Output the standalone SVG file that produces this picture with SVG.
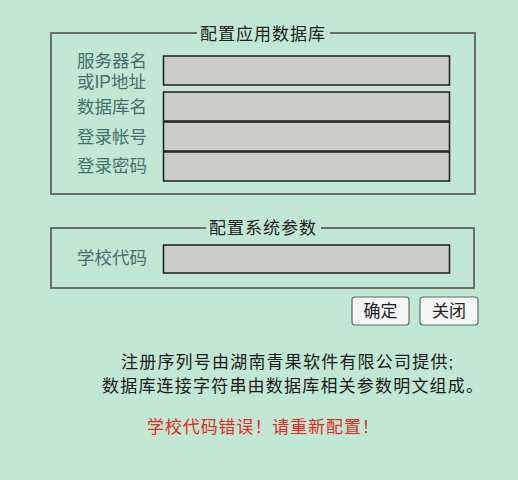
<svg xmlns="http://www.w3.org/2000/svg" width="518" height="480" viewBox="0 0 518 480">
<style>
text{font-family:"Liberation Sans","Noto Sans CJK SC",sans-serif}
.fs{fill:none;stroke:#6b6f6c;stroke-width:2}
.ttl{font-size:17px;fill:#222;letter-spacing:1px}
.lbl{font-size:17.5px;fill:#46706c}
.inp{fill:#cbcbc8;stroke:#1e1e1e;stroke-width:1.5}
.btn{fill:#f4f7f5;stroke:#5d6a64;stroke-width:1.2}
.bt{font-size:17px;fill:#222;text-anchor:middle}
.note{font-size:17px;fill:#1a1a1a;letter-spacing:1.2px}
.err{font-size:17px;fill:#e8281c;letter-spacing:0.9px}
</style>
<rect width="518" height="480" fill="#c0e8d5"/>
<g id="fieldset-db">
<rect class="fs" x="51" y="33" width="424" height="161"/>
<rect x="197" y="24" width="133" height="18" fill="#c0e8d5"/>
<text class="ttl" x="200" y="40">配置应用数据库</text>
</g>
<g id="server">
<text class="lbl" x="77" y="67">服务器名</text>
<text class="lbl" x="77" y="88">或IP地址</text>
<rect class="inp" x="163.5" y="56" width="286" height="29"/>
</g>
<g id="dbname">
<text class="lbl" x="77" y="113">数据库名</text>
<rect class="inp" x="163.5" y="92" width="286" height="29"/>
</g>
<g id="account">
<text class="lbl" x="77" y="143">登录帐号</text>
<rect class="inp" x="163.5" y="122" width="286" height="29"/>
</g>
<g id="password">
<text class="lbl" x="77" y="172">登录密码</text>
<rect class="inp" x="163.5" y="152" width="286" height="29"/>
</g>
<g id="fieldset-sys">
<rect class="fs" x="51" y="228" width="423" height="60"/>
<rect x="206" y="219" width="115" height="18" fill="#c0e8d5"/>
<text class="ttl" x="209" y="234">配置系统参数</text>
</g>
<g id="schoolcode">
<text class="lbl" x="77" y="264">学校代码</text>
<rect class="inp" x="163.5" y="245" width="286" height="28"/>
</g>
<g id="btn-ok">
<rect class="btn" x="352" y="297" width="57" height="28" rx="3"/>
<text class="bt" x="380.5" y="317">确定</text>
</g>
<g id="btn-close">
<rect class="btn" x="420" y="297" width="58" height="28" rx="3"/>
<text class="bt" x="449" y="317">关闭</text>
</g>
<g id="connectors"></g>
<g id="notes">
<text class="note" x="121" y="368">注册序列号由湖南青果软件有限公司提供;</text>
<text class="note" x="102" y="392">数据库连接字符串由数据库相关参数明文组成。</text>
<text class="err" x="147" y="433">学校代码错误！请重新配置！</text>
</g>
</svg>
